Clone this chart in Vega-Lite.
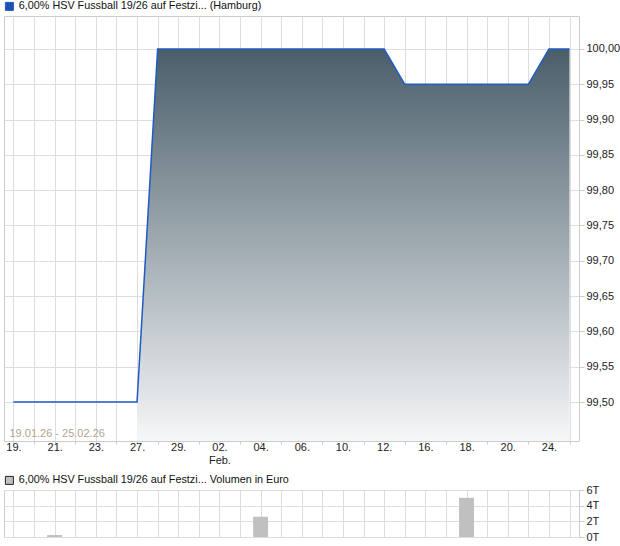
{
  "$schema": "https://vega.github.io/schema/vega-lite/v6.json",
  "padding": {"left": 3, "top": 0, "right": 0, "bottom": 0},
  "config": {
    "font": "Liberation Sans",
    "view": {"stroke": "#cccccc", "strokeWidth": 1},
    "axis": {"labelFont": "Liberation Sans", "labelFontSize": 11, "labelColor": "#222222", "gridColor": "#dddddd", "tickColor": "#cccccc", "domain": false},
    "legend": {"labelFont": "Liberation Sans", "labelFontSize": 10.8, "labelColor": "#111111", "labelLimit": 500}
  },
  "datasets": {
    "k": [
      {"d": "2026-01-19", "p": 99.50, "v": 0},
      {"d": "2026-01-20", "p": 99.50, "v": 0},
      {"d": "2026-01-21", "p": 99.50, "v": 250},
      {"d": "2026-01-22", "p": 99.50, "v": 0},
      {"d": "2026-01-23", "p": 99.50, "v": 0},
      {"d": "2026-01-26", "p": 99.50, "v": 0},
      {"d": "2026-01-27", "p": 99.50, "v": 0},
      {"d": "2026-01-28", "p": 100.00, "v": 0},
      {"d": "2026-01-29", "p": 100.00, "v": 0},
      {"d": "2026-01-30", "p": 100.00, "v": 0},
      {"d": "2026-02-02", "p": 100.00, "v": 0},
      {"d": "2026-02-03", "p": 100.00, "v": 0},
      {"d": "2026-02-04", "p": 100.00, "v": 2600},
      {"d": "2026-02-05", "p": 100.00, "v": 0},
      {"d": "2026-02-06", "p": 100.00, "v": 0},
      {"d": "2026-02-09", "p": 100.00, "v": 0},
      {"d": "2026-02-10", "p": 100.00, "v": 0},
      {"d": "2026-02-11", "p": 100.00, "v": 0},
      {"d": "2026-02-12", "p": 100.00, "v": 0},
      {"d": "2026-02-13", "p": 99.95, "v": 0},
      {"d": "2026-02-16", "p": 99.95, "v": 0},
      {"d": "2026-02-17", "p": 99.95, "v": 0},
      {"d": "2026-02-18", "p": 99.95, "v": 5000},
      {"d": "2026-02-19", "p": 99.95, "v": 0},
      {"d": "2026-02-20", "p": 99.95, "v": 0},
      {"d": "2026-02-23", "p": 99.95, "v": 0},
      {"d": "2026-02-24", "p": 100.00, "v": 0},
      {"d": "2026-02-25", "p": 100.00, "v": 0}
    ]
  },
  "spacing": 8,
  "vconcat": [
    {
      "width": 575,
      "height": 425,
      "data": {"name": "k"},
      "layer": [
        {
          "transform": [{"filter": "datum.d >= '2026-01-27'"}],
          "mark": {
            "type": "area",
            "clip": true,
            "fill": {
              "gradient": "linear",
              "x1": 0, "y1": 0, "x2": 0, "y2": 1,
              "stops": [
                {"offset": 0, "color": "#4a5e6a"},
                {"offset": 1, "color": "#f6f7f8"}
              ]
            }
          },
          "encoding": {
            "x": {"field": "d", "type": "ordinal"},
            "y": {"field": "p", "type": "quantitative"},
            "y2": {"datum": 99.4448}
          }
        },
        {
          "mark": {"type": "line", "strokeWidth": 1.5, "clip": true},
          "encoding": {
            "x": {
              "field": "d", "type": "ordinal", "title": null,
              "scale": {"type": "point", "padding": 0.46},
              "axis": {
                "orient": "bottom",
                "grid": true,
                "ticks": true,
                "tickSize": 3,
                "labelAngle": 0,
                "labelAlign": "center",
                "labelOverlap": false,
                "labelPadding": 3,
                "labelExpr": "datum.value == '2026-02-02' ? ['02.', 'Feb.'] : (indexof(['2026-01-19','2026-01-21','2026-01-23','2026-01-27','2026-01-29','2026-02-04','2026-02-06','2026-02-10','2026-02-12','2026-02-16','2026-02-18','2026-02-20','2026-02-24'], datum.value) >= 0 ? substring(datum.value, 8, 10) + '.' : '')"
              }
            },
            "y": {
              "field": "p", "type": "quantitative", "title": null,
              "scale": {"domain": [99.4448, 100.0467], "zero": false, "nice": false},
              "axis": {
                "orient": "right",
                "values": [99.5, 99.55, 99.6, 99.65, 99.7, 99.75, 99.8, 99.85, 99.9, 99.95, 100.0],
                "labelExpr": "replace(format(datum.value, '.2f'), '.', ',')",
                "tickSize": 5,
                "labelPadding": 2
              }
            },
            "color": {
              "datum": "6,00% HSV Fussball 19/26 auf Festzi... (Hamburg)",
              "scale": {"range": ["#1f5bc6"]},
              "legend": {
                "title": null,
                "orient": "none",
                "legendX": 0,
                "legendY": -15,
                "symbolType": "square",
                "symbolSize": 64,
                "labelOffset": 4,
                "labelLimit": 500,
                "encode": {"symbols": {"update": {"fill": {"value": "#1f4fb8"}, "stroke": {"value": "#222222"}, "strokeWidth": {"value": 1}}}}
              }
            }
          }
        },
        {
          "data": {"values": [{"t": "19.01.26 - 25.02.26"}]},
          "mark": {"type": "text", "align": "left", "baseline": "bottom", "dx": -4, "fontSize": 11, "color": "#b0a590"},
          "encoding": {
            "x": {"datum": "2026-01-19", "type": "ordinal"},
            "y": {"datum": 99.447},
            "text": {"field": "t"}
          }
        }
      ]
    },
    {
      "width": 575,
      "height": 47,
      "data": {"name": "k"},
      "mark": {"type": "bar", "size": 15},
      "encoding": {
        "x": {
          "field": "d", "type": "ordinal", "title": null,
          "scale": {"type": "point", "padding": 0.46},
          "axis": {"grid": true, "labels": false, "ticks": false, "domain": false}
        },
        "y": {
          "field": "v", "type": "quantitative", "title": null,
          "scale": {"domain": [0, 6000], "nice": false},
          "axis": {
            "orient": "right",
            "values": [0, 2000, 4000, 6000],
            "labelExpr": "(datum.value / 1000) + 'T'",
            "tickSize": 5,
            "labelPadding": 2
          }
        },
        "color": {
          "datum": "6,00% HSV Fussball 19/26 auf Festzi... Volumen in Euro",
          "scale": {"range": ["#c0c0c0"]},
          "legend": {
            "title": null,
            "orient": "none",
            "legendX": 0,
            "legendY": -15,
            "symbolType": "square",
            "symbolSize": 64,
            "labelOffset": 4,
            "labelLimit": 500,
            "encode": {"symbols": {"update": {"fill": {"value": "#c0c0c0"}, "stroke": {"value": "#222222"}, "strokeWidth": {"value": 1}}}}
          }
        }
      }
    }
  ],
  "resolve": {"scale": {"color": "independent", "x": "independent", "y": "independent"}, "legend": {"color": "independent"}}
}
